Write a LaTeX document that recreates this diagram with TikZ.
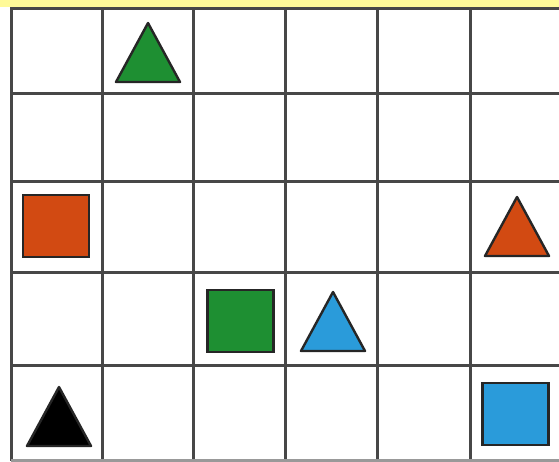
\documentclass[tikz,border=0pt]{standalone}
\usepackage{xcolor}
\usepackage{tikz}
\usetikzlibrary{positioning}

\definecolor{shpgreen}{HTML}{1E8F32}
\definecolor{shporange}{HTML}{D24A12}
\definecolor{shpblue}{HTML}{2A9BDA}

\begin{document}
\begin{tikzpicture}[
    x=1pt, y=-1pt,
    gridline/.style={line width=3pt, black!72},
    sq/.style={rectangle, draw=black!85, line width=2.4pt, minimum width=66pt, minimum height=62pt, inner sep=0pt},
    tri/.style={draw=black!85, line width=2.4pt, line join=round}
]

% Frame
\useasboundingbox (0,0) rectangle (559,461);
\fill[yellow!40] (0,0) rectangle (559,7);
\fill[white] (0,7) rectangle (559,461);

% Grid
\foreach \x in {11, 102, 193, 285, 377, 470} {
    \draw[gridline] (\x, 7) -- (\x, 461);
}
\foreach \y in {8, 93, 181, 272, 365} {
    \draw[gridline] (11, \y) -- (559, \y);
}
\draw[gridline, black!40] (11, 460) -- (559, 460);

% Squares
\node[sq, fill=shporange] (sqorange) at (56, 226) {};
\node[sq, fill=shpgreen] (sqgreen) at (240.5, 321) {};
\node[sq, fill=shpblue] (sqblue) at (515.5, 414) {};

% Triangles
\foreach \cx/\by/\col in {148/82/shpgreen, 517/256/shporange, 333/351/shpblue, 59/446/black} {
    \draw[tri, fill=\col] (\cx-32, \by) -- (\cx, \by-59) -- (\cx+32, \by) -- cycle;
}

\end{tikzpicture}
\end{document}
